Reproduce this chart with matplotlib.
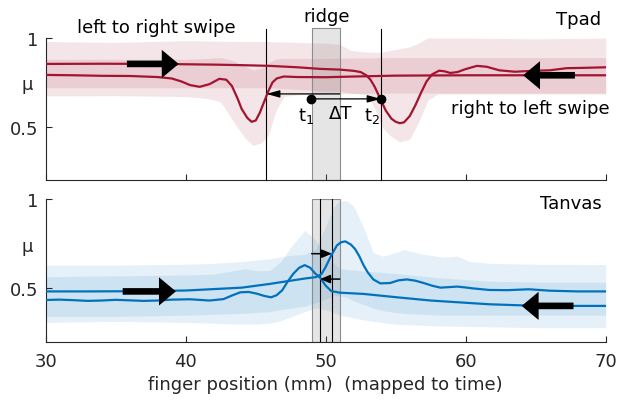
import matplotlib
matplotlib.use("Agg")
import matplotlib.pyplot as plt
from matplotlib.patches import Rectangle, FancyArrowPatch

plt.rcParams['font.family'] = ['DejaVu Sans']
plt.rcParams['font.size'] = 13

red = '#A2142F'
blue = '#0072BD'
axcol = '#262626'

# ---- Tpad: left to right swipe (mean curve)
tpad_lr_x = [30, 34, 38, 42, 44, 46, 48, 49.6, 51, 52, 52.5, 52.9, 53.2, 53.5, 53.9,
             54.3, 54.7, 55.0, 55.3, 55.6, 56.0, 56.4, 56.8, 57.2, 57.6, 58.1, 58.5,
             58.9, 59.4, 60.0, 60.8, 61.5, 62.4, 63.5, 64.8, 66.0, 67.2, 68.5, 70]
tpad_lr = [0.854, 0.855, 0.854, 0.85, 0.847, 0.843, 0.835, 0.826, 0.822, 0.815, 0.808,
           0.79, 0.765, 0.725, 0.657, 0.59, 0.545, 0.528, 0.52, 0.525, 0.56, 0.62, 0.69,
           0.755, 0.795, 0.816, 0.812, 0.803, 0.808, 0.825, 0.843, 0.838, 0.818, 0.81,
           0.815, 0.818, 0.83, 0.832, 0.835]
# ---- Tpad: right to left swipe
tpad_rl_x = [30, 32, 34, 36, 38, 39, 39.7, 40.3, 41.0, 41.7, 42.4, 42.9, 43.3, 43.7, 44.0,
             44.4, 44.7, 45.0, 45.3, 45.6, 45.9, 46.2, 46.5, 47.0, 48, 50, 52, 55, 60, 65, 70]
tpad_rl = [0.792, 0.79, 0.787, 0.786, 0.78, 0.772, 0.755, 0.735, 0.725, 0.74, 0.77, 0.765,
           0.73, 0.66, 0.6, 0.55, 0.528, 0.535, 0.58, 0.64, 0.7, 0.75, 0.772, 0.783, 0.78,
           0.779, 0.783, 0.788, 0.79, 0.79, 0.79]
# ---- Tpad bands
tpad_lr_band_x = [30, 35, 40, 44, 46, 48, 50, 51, 51.8, 53, 53.5, 54, 54.6, 55.3, 56, 56.6,
                  57.3, 58, 60, 65, 70]
tpad_lr_hi = [0.98, 0.975, 0.985, 0.98, 0.98, 0.975, 0.97, 0.965, 0.93, 0.92, 0.92, 0.92,
              0.93, 0.94, 0.95, 0.97, 1.0, 1.0, 1.0, 0.995, 1.0]
tpad_lr_lo = [0.72, 0.72, 0.72, 0.72, 0.72, 0.71, 0.70, 0.70, 0.69, 0.68, 0.6, 0.5, 0.45,
              0.415, 0.43, 0.52, 0.65, 0.685, 0.685, 0.685, 0.685]
tpad_rl_band_x = [30, 35, 40, 41.5, 42.5, 43.5, 44.2, 44.8, 45.4, 45.9, 46.4, 47, 48, 50,
                  55, 60, 65, 70]
tpad_rl_hi = [0.88, 0.88, 0.88, 0.885, 0.89, 0.87, 0.84, 0.82, 0.83, 0.86, 0.88, 0.885,
              0.885, 0.885, 0.89, 0.89, 0.89, 0.89]
tpad_rl_lo = [0.674, 0.675, 0.67, 0.66, 0.64, 0.52, 0.44, 0.395, 0.41, 0.45, 0.58, 0.67,
              0.68, 0.685, 0.69, 0.69, 0.69, 0.69]

# ---- Tanvas: left to right swipe
tv_lr_x = [30, 33, 36, 38, 40, 42, 44, 46, 47.5, 48.5, 49.3, 49.7, 50.0, 50.4, 50.8, 51.1,
           51.4, 51.8, 52.1, 52.4, 52.7, 53.0, 53.4, 53.9, 54.6, 55.2, 55.8, 56.4, 57.0,
           57.6, 58.2, 58.8, 59.4, 60.0, 60.5, 61.7, 63, 64.5, 66, 68, 70]
tv_lr = [0.483, 0.483, 0.484, 0.486, 0.488, 0.496, 0.504, 0.525, 0.543, 0.555, 0.563, 0.58,
         0.62, 0.685, 0.74, 0.758, 0.763, 0.745, 0.72, 0.68, 0.63, 0.59, 0.55, 0.528, 0.53,
         0.545, 0.55, 0.543, 0.53, 0.515, 0.504, 0.507, 0.51, 0.505, 0.5, 0.491, 0.49,
         0.495, 0.487, 0.483, 0.483]
# ---- Tanvas: right to left swipe
tv_rl_x = [30, 31, 32, 33, 34, 35, 36, 37, 38, 39, 40.3, 41.7, 42.7, 43.3, 43.9, 44.5, 45.1,
           45.6, 46.1, 46.5, 46.9, 47.3, 47.7, 48.1, 48.5, 48.9, 49.25, 49.6, 50.0, 50.4,
           51.0, 52.7, 55.1, 57.5, 59.9, 61.7, 64, 67, 70]
tv_rl = [0.435, 0.437, 0.434, 0.43, 0.432, 0.436, 0.433, 0.43, 0.432, 0.437, 0.439, 0.432,
         0.44, 0.46, 0.478, 0.48, 0.47, 0.458, 0.45, 0.462, 0.49, 0.54, 0.583, 0.615, 0.63,
         0.615, 0.583, 0.56, 0.515, 0.485, 0.476, 0.469, 0.45, 0.432, 0.42, 0.411, 0.405,
         0.402, 0.402]
# ---- Tanvas bands
tv_lr_band_x = [30, 35, 40, 42, 44, 46, 47.5, 48.5, 49.3, 50, 50.6, 51, 51.5, 52, 52.7,
                53.4, 54.1, 55, 55.6, 57, 58.4, 59.4, 60.3, 61.7, 65, 70]
tv_lr_hi = [0.63, 0.63, 0.635, 0.64, 0.65, 0.665, 0.685, 0.69, 0.72, 0.85, 0.96, 0.99, 0.99,
            0.96, 0.84, 0.70, 0.68, 0.70, 0.717, 0.69, 0.675, 0.68, 0.65, 0.64, 0.635, 0.633]
tv_lr_lo = [0.343, 0.343, 0.35, 0.355, 0.36, 0.37, 0.39, 0.40, 0.42, 0.44, 0.46, 0.46, 0.45,
            0.43, 0.41, 0.39, 0.375, 0.365, 0.36, 0.355, 0.35, 0.35, 0.35, 0.35, 0.35, 0.35]
tv_rl_band_x = [30, 35, 40, 42, 43.5, 44.2, 45, 46, 46.8, 47.5, 48.5, 49.3, 50, 51, 53, 55,
                58, 61.7, 65, 70]
tv_rl_hi = [0.565, 0.57, 0.575, 0.58, 0.6, 0.61, 0.6, 0.6, 0.65, 0.73, 0.824, 0.77, 0.68,
            0.61, 0.595, 0.583, 0.56, 0.54, 0.535, 0.535]
tv_rl_lo = [0.31, 0.315, 0.31, 0.305, 0.30, 0.30, 0.30, 0.305, 0.32, 0.34, 0.37, 0.39, 0.38,
            0.35, 0.32, 0.30, 0.29, 0.285, 0.28, 0.28]

# markers / annotations (mm)
ridge = (49, 51)
tpad_t1, tpad_t2 = 48.93, 53.93
tpad_lines = [45.76, 53.93]
tv_lines = [49.6, 50.45]

fig = plt.figure(figsize=(6.2, 4.02), dpi=100)
ax1 = fig.add_axes([45.7 / 620, 1 - 181 / 402, 560 / 620, 142 / 402])
ax2 = fig.add_axes([45.7 / 620, 1 - 343 / 402, 560 / 620, 143 / 402])

for ax in (ax1, ax2):
    ax.set_xlim(30, 70)
    ax.set_ylim(0.2, 1)
    ax.spines['top'].set_visible(False)
    ax.spines['right'].set_visible(False)
    for s in ('left', 'bottom'):
        ax.spines[s].set_color(axcol)
        ax.spines[s].set_linewidth(0.8)
    ax.set_xticks([30, 40, 50, 60, 70])
    ax.set_yticks([0.5, 1])
    ax.set_yticklabels(['0.5', '1'])
    ax.tick_params(direction='in', length=4, width=0.8, colors=axcol, pad=5)
    ax.tick_params(axis='x', pad=7)
    ax.patch.set_alpha(0)

ax1.set_xticklabels([])

# bands
ax1.fill_between(tpad_lr_band_x, tpad_lr_lo, tpad_lr_hi, color=red, alpha=0.11, lw=0, zorder=1)
ax1.fill_between(tpad_rl_band_x, tpad_rl_lo, tpad_rl_hi, color=red, alpha=0.11, lw=0, zorder=1)
ax2.fill_between(tv_lr_band_x, tv_lr_lo, tv_lr_hi, color=blue, alpha=0.1, lw=0, zorder=1)
ax2.fill_between(tv_rl_band_x, tv_rl_lo, tv_rl_hi, color=blue, alpha=0.1, lw=0, zorder=1)

# ridge boxes
ax1.add_patch(Rectangle((ridge[0], 0.2), ridge[1] - ridge[0], 0.856, facecolor='0.5',
                        alpha=0.2, edgecolor='none', zorder=2, clip_on=False))
ax1.add_patch(Rectangle((ridge[0], 0.2), ridge[1] - ridge[0], 0.856, facecolor='none',
                        edgecolor='0.55', lw=0.8, zorder=2, clip_on=False))
ax2.add_patch(Rectangle((ridge[0], 0.2), ridge[1] - ridge[0], 0.8, facecolor='0.5',
                        alpha=0.2, edgecolor='none', zorder=2))
ax2.add_patch(Rectangle((ridge[0], 0.2), ridge[1] - ridge[0], 0.8, facecolor='none',
                        edgecolor='0.55', lw=0.8, zorder=2))

for xv in tpad_lines:
    ax1.plot([xv, xv], [0.2, 1.05], color='k', lw=0.8, zorder=3, clip_on=False)
for xv in tv_lines:
    ax2.plot([xv, xv], [0.2, 1.0], color='k', lw=0.8, zorder=3)

# mean curves
ax1.plot(tpad_lr_x, tpad_lr, color=red, lw=1.6, zorder=4)
ax1.plot(tpad_rl_x, tpad_rl, color=red, lw=1.6, zorder=4)
ax2.plot(tv_lr_x, tv_lr, color=blue, lw=1.6, zorder=4)
ax2.plot(tv_rl_x, tv_rl, color=blue, lw=1.6, zorder=4)


def big_arrow(ax, x0, x1, y):
    ax.add_patch(FancyArrowPatch((x0, y), (x1, y), arrowstyle='simple,head_length=0.87,head_width=1.45,tail_width=0.34',
                                 mutation_scale=14, color='k', lw=0, shrinkA=0, shrinkB=0, zorder=6))


def small_arrow(ax, x0, x1, y, hl=0.8, hw=0.22, lw=0.9):
    ax.annotate('', xy=(x1, y), xytext=(x0, y), annotation_clip=False,
                arrowprops=dict(arrowstyle='-|>,head_length=%g,head_width=%g' % (hl, hw),
                                color='k', lw=lw, shrinkA=0, shrinkB=0, mutation_scale=10),
                zorder=6)


big_arrow(ax1, 35.8, 39.5, 0.854)
big_arrow(ax1, 67.8, 64.1, 0.79)
big_arrow(ax2, 35.5, 39.3, 0.483)
big_arrow(ax2, 67.7, 64.0, 0.402)

small_arrow(ax1, ridge[1], tpad_lines[0], 0.685)
small_arrow(ax1, tpad_t1, tpad_t2, 0.657)
ax1.plot([tpad_t1, tpad_t2], [0.657, 0.657], 'o', color='k', ms=6, zorder=7)

small_arrow(ax2, ridge[0], tv_lines[1], 0.694, hl=0.6, hw=0.25, lw=1.1)
small_arrow(ax2, ridge[1], tv_lines[0], 0.552, hl=0.6, hw=0.25, lw=1.1)

# texts
ax1.text(37.9, 1.062, 'left to right swipe', ha='center', va='center', color='k')
ax1.text(50.07, 1.124, 'ridge', ha='center', va='center', color='k')
ax1.text(69.7, 1.107, 'Tpad', ha='right', va='center', color='k')
ax1.text(64.6, 0.606, 'right to left swipe', ha='center', va='center', color='k')
ax1.text(48.6, 0.566, r'$\mathregular{t_1}$', ha='center', va='center', color='k')
ax1.text(51.06, 0.575, 'ΔT', ha='center', va='center', color='k')
ax1.text(53.3, 0.566, r'$\mathregular{t_2}$', ha='center', va='center', color='k')
ax2.text(69.7, 0.978, 'Tanvas', ha='right', va='center', color='k')

for ax, yv in ((ax1, 0.74), (ax2, 0.737)):
    ax.text(-0.0325, yv, 'μ', transform=ax.get_yaxis_transform(), ha='center', va='center',
            color=axcol)

ax2.set_xlabel('finger position (mm)  (mapped to time)', color=axcol, labelpad=4)

fig.savefig('out.png', dpi=100)
